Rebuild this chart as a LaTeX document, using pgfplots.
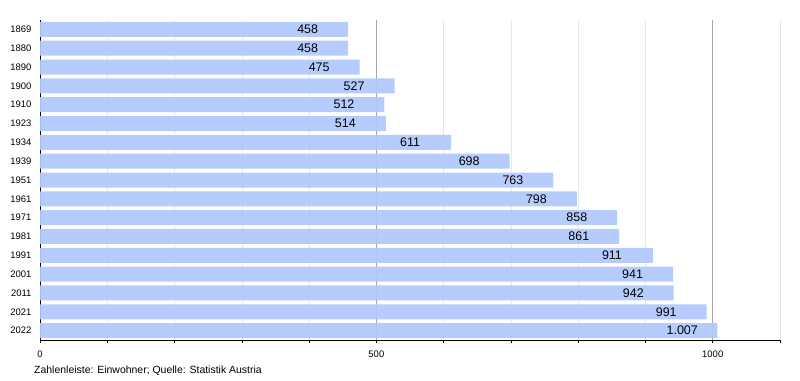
\documentclass[border=0pt]{standalone}
\usepackage{pgfplots}
\pgfplotsset{compat=1.18}
\usepackage{fontspec}
\setmainfont{Liberation Sans}
\definecolor{barblue}{RGB}{176,200,252}
\begin{document}
\begin{tikzpicture}[x=1bp,y=1bp]
\path[use as bounding box] (0,0) rectangle (800,380);
\begin{axis}[
  at={(40bp,40bp)}, anchor=south west,
  scale only axis, width=740bp, height=320bp,
  xbar, bar width=15bp,
  xmin=0, xmax=1100,
  ymin=-0.5, ymax=16.5, y dir=reverse,
  ytick={0,...,16},
  yticklabels={1869,1880,1890,1900,1910,1923,1934,1939,1951,1961,1971,1981,1991,2001,2011,2021,2022},
  yticklabel style={font=\fontsize{9.5}{11}\selectfont, xshift=-2bp},
  ytick style={draw=none},
  xtick={0,500,1000},
  minor xtick={100,200,300,400,600,700,800,900,1100},
  xticklabel style={font=\fontsize{9.5}{11}\selectfont, /pgf/number format/1000 sep={}, yshift=-4bp},
  /pgf/number format/assume math mode=true,
  tick align=outside, major tick length=3bp, minor tick length=3bp,
  xtick style={black, line width=0.6pt},
  axis x line*=bottom, axis y line*=left,
  axis line style={black, line width=0.8pt, -},
  xmajorgrids, xminorgrids,
  major grid style={gray!70, line width=0.5pt},
  minor grid style={gray!18, line width=0.5pt},
  scaled x ticks=false,
  clip=false,
]
\addplot[draw=none, fill=barblue, fill opacity=0.93,
  nodes near coords={\pgfmathprintnumber[assume math mode=true, 1000 sep={.}]{\pgfplotspointmeta}},
  point meta=explicit,
  nodes near coords style={anchor=west, inner sep=0pt, xshift=-51bp, font=\fontsize{12.5}{14}\selectfont, text=black, text opacity=1}]
coordinates {
(458,0) [458] (458,1) [458] (475,2) [475] (527,3) [527] (512,4) [512] (514,5) [514]
(611,6) [611] (698,7) [698] (763,8) [763] (798,9) [798] (858,10) [858] (861,11) [861]
(911,12) [911] (941,13) [941] (942,14) [942] (991,15) [991] (1007,16) [1007]
};
\end{axis}
\node[anchor=base west, font=\fontsize{10.5}{12}\selectfont, inner sep=0] at (34,7) {Zahlenleiste: Einwohner; Quelle: Statistik Austria};
\end{tikzpicture}
\end{document}
